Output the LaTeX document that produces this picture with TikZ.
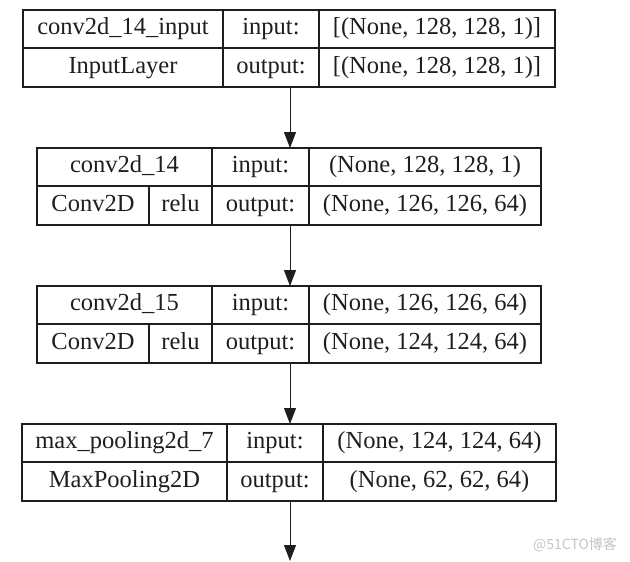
\documentclass[tikz,border=0pt]{standalone}
\usepackage{fontspec}
\setmainfont{Liberation Serif}
\newfontfamily\cjk{Noto Sans CJK SC}
\usetikzlibrary{arrows.meta}
\definecolor{ink}{HTML}{1E1E1E}
\definecolor{wm}{HTML}{C4C4C4}
\tikzset{
  cell/.style={draw=ink, line width=1.1pt, text=ink, inner sep=0pt, outer sep=0pt,
    text height=16.5pt, text depth=5.5pt,
    font=\fontsize{24.5}{27}\selectfont, anchor=center},
  flow/.style={draw=ink, line width=1pt, -{Triangle[length=16pt,width=12pt]}},
  mark51/.style={text=wm, font=\cjk\fontsize{14}{16}\selectfont, inner sep=0pt}
}
\begin{document}
\begin{tikzpicture}[x=1pt,y=-1pt]
\useasboundingbox (0,0) rectangle (630,562);
% ---- Box 1 : InputLayer  x 23-555, y 10-48-87
\node[cell, minimum width=200pt, minimum height=38pt] (n1) at (123,29) {conv2d\_14\_input};
\node[cell, minimum width=96pt,  minimum height=38pt] (i1) at (271,29) {input:};
\node[cell, minimum width=236pt, minimum height=38pt] (a1) at (437,29) {[(None, 128, 128, 1)]};
\node[cell, minimum width=200pt, minimum height=39pt] (t1) at (123,67.5) {InputLayer};
\node[cell, minimum width=96pt,  minimum height=39pt] (o1) at (271,67.5) {output:};
\node[cell, minimum width=236pt, minimum height=39pt] (b1) at (437,67.5) {[(None, 128, 128, 1)]};
% ---- Box 2 : conv2d_14  x 37-541, y 148-186-225
\node[cell, minimum width=175pt, minimum height=38pt] (n2) at (124.5,167) {conv2d\_14};
\node[cell, minimum width=97pt,  minimum height=38pt] (i2) at (260.5,167) {input:};
\node[cell, minimum width=232pt, minimum height=38pt] (a2) at (425,167) {(None, 128, 128, 1)};
\node[cell, minimum width=112pt, minimum height=39pt] (t2) at (93,205.5) {Conv2D};
\node[cell, minimum width=63pt,  minimum height=39pt] (r2) at (180.5,205.5) {relu};
\node[cell, minimum width=97pt,  minimum height=39pt] (o2) at (260.5,205.5) {output:};
\node[cell, minimum width=232pt, minimum height=39pt] (b2) at (425,205.5) {(None, 126, 126, 64)};
% ---- Box 3 : conv2d_15  x 37-541, y 286-324-363
\node[cell, minimum width=175pt, minimum height=38pt] (n3) at (124.5,305) {conv2d\_15};
\node[cell, minimum width=97pt,  minimum height=38pt] (i3) at (260.5,305) {input:};
\node[cell, minimum width=232pt, minimum height=38pt] (a3) at (425,305) {(None, 126, 126, 64)};
\node[cell, minimum width=112pt, minimum height=39pt] (t3) at (93,343.5) {Conv2D};
\node[cell, minimum width=63pt,  minimum height=39pt] (r3) at (180.5,343.5) {relu};
\node[cell, minimum width=97pt,  minimum height=39pt] (o3) at (260.5,343.5) {output:};
\node[cell, minimum width=232pt, minimum height=39pt] (b3) at (425,343.5) {(None, 124, 124, 64)};
% ---- Box 4 : max_pooling2d_7  x 22-556, y 424-462-501
\node[cell, minimum width=205pt, minimum height=38pt] (n4) at (124.5,443) {max\_pooling2d\_7};
\node[cell, minimum width=96pt,  minimum height=38pt] (i4) at (275,443) {input:};
\node[cell, minimum width=233pt, minimum height=38pt] (a4) at (439.5,443) {(None, 124, 124, 64)};
\node[cell, minimum width=205pt, minimum height=39pt] (t4) at (124.5,481.5) {MaxPooling2D};
\node[cell, minimum width=96pt,  minimum height=39pt] (o4) at (275,481.5) {output:};
\node[cell, minimum width=233pt, minimum height=39pt] (b4) at (439.5,481.5) {(None, 62, 62, 64)};
% ---- connectors
\coordinate (end) at (290,561);
\draw[flow] (o1.south -| end) -- (i2.north -| end);
\draw[flow] (o2.south -| end) -- (i3.north -| end);
\draw[flow] (o3.south -| end) -- (i4.north -| end);
\draw[flow] (o4.south -| end) -- (end);
% ---- watermark
\node[mark51] (wmk) at (575,545) {@51CTO博客};
\end{tikzpicture}
\end{document}
